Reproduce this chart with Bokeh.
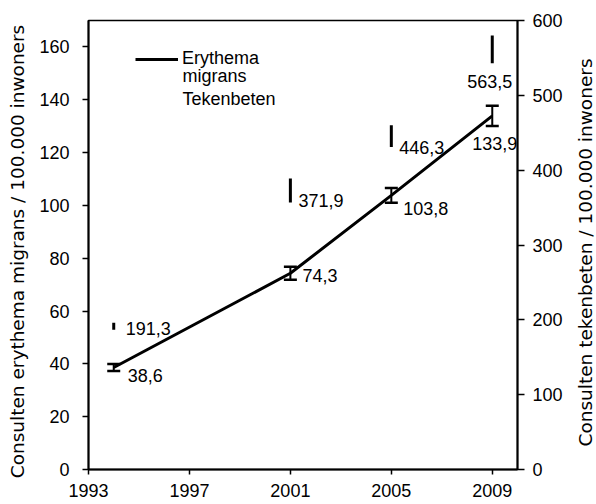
import math
from bokeh.plotting import figure
from bokeh.models import (Range1d, LinearAxis, FixedTicker, ColumnDataSource,
                          Whisker, TeeHead, Legend, LegendItem, Label)
from bokeh.core.properties import value
from bokeh.embed import file_html
from bokeh.resources import INLINE

# ---- data ----
years = [1994, 2001, 2005, 2009]
em_values = [38.6, 74.3, 103.8, 133.9]
em_lower = [37.3, 71.8, 101.0, 130.1]
em_upper = [39.9, 76.8, 106.6, 137.7]
tb_values = [191.3, 371.9, 446.3, 563.5]
tb_lower = [186.6, 356.8, 431.0, 543.0]
tb_upper = [196.0, 388.9, 460.0, 580.0]
x_ticks = [1993, 1997, 2001, 2005, 2009]
left_ticks = [0, 20, 40, 60, 80, 100, 120, 140, 160]
right_ticks = [0, 100, 200, 300, 400, 500, 600]

# label offsets (pixels) – style only
em_dx = [14, 12, 12, -20]
em_dy = [8, 2, 13, 28]
tb_dx = [12, 8, 8, -25]
tb_dy = [2, 9, 12, 34]

FONT = "Liberation Sans"
TITLE_FONT = "DejaVu Sans"

def fmt(v):
    return f"{v:.1f}".replace(".", ",")

p = figure(width=596, height=504, output_backend="svg", toolbar_location=None,
           x_range=Range1d(1993, 2010), y_range=Range1d(0, 170),
           min_border_left=88, min_border_right=79, min_border_top=20,
           min_border_bottom=35)
p.extra_y_ranges = {"right": Range1d(0, 600)}
p.background_fill_color = "white"
p.border_fill_color = "white"
p.outline_line_color = "black"
p.outline_line_width = 1.5
p.xgrid.visible = False
p.ygrid.visible = False

def style_axis(ax):
    ax.axis_line_color = "black"
    ax.axis_line_width = 2
    ax.major_tick_line_color = "black"
    ax.major_tick_line_width = 1.5
    ax.major_tick_in = 0
    ax.minor_tick_line_color = None
    ax.major_label_text_font = FONT
    ax.major_label_text_font_size = "18px"
    ax.major_label_text_color = "black"

xa = p.xaxis[0]
style_axis(xa)
xa.ticker = FixedTicker(ticks=x_ticks)
xa.major_tick_out = 5
xa.major_label_standoff = 9

ya = p.yaxis[0]
style_axis(ya)
ya.ticker = FixedTicker(ticks=left_ticks)
ya.major_tick_out = 6
ya.major_label_standoff = 13

ra = LinearAxis(y_range_name="right", ticker=FixedTicker(ticks=right_ticks))
style_axis(ra)
ra.major_tick_out = 7
ra.major_label_standoff = 8
p.add_layout(ra, "right")

# axis titles, both reading bottom-to-top like the reference
p.add_layout(Label(x=2, y=218, x_units="screen", y_units="screen",
                   text="Consulten erythema migrans / 100.000 inwoners",
                   angle=math.pi / 2, text_align="center", text_baseline="middle",
                   text_font=TITLE_FONT, text_font_size="18.5px",
                   text_color="black"), "left")
p.add_layout(Label(x=20, y=217, x_units="screen", y_units="screen",
                   text="Consulten tekenbeten / 100.000 inwoners",
                   angle=math.pi / 2, text_align="center", text_baseline="middle",
                   text_font=TITLE_FONT, text_font_size="18.5px",
                   text_color="black"), "right")

# ---- erythema migrans ----
em_src = ColumnDataSource(dict(x=years, y=em_values, lo=em_lower, hi=em_upper,
                               txt=[fmt(v) for v in em_values], dx=em_dx, dy=em_dy))
em_line = p.line("x", "y", source=em_src, line_color="black", line_width=3)
p.add_layout(Whisker(source=em_src, base="x", lower="lo", upper="hi",
                     line_color="black", line_width=2,
                     lower_head=TeeHead(size=13, line_width=2.5, line_color="black"),
                     upper_head=TeeHead(size=13, line_width=2.5, line_color="black")))
p.text("x", "y", text="txt", source=em_src, x_offset="dx", y_offset="dy",
       text_font=value(FONT), text_font_size="18px", text_color="black",
       text_align="left", text_baseline="middle")

# ---- tekenbeten ----
tb_src = ColumnDataSource(dict(x=years, y=tb_values, lo=tb_lower, hi=tb_upper,
                               txt=[fmt(v) for v in tb_values], dx=tb_dx, dy=tb_dy))
p.segment("x", "lo", "x", "hi", source=tb_src, y_range_name="right",
          line_color="black", line_width=3)
p.text("x", "y", text="txt", source=tb_src, x_offset="dx", y_offset="dy",
       y_range_name="right",
       text_font=value(FONT), text_font_size="18px", text_color="black",
       text_align="left", text_baseline="middle")

# ---- legend ----
legend = Legend(items=[LegendItem(label="Erythema", renderers=[em_line])],
                location=(47, 400), padding=0, margin=0, spacing=0,
                glyph_width=43, glyph_height=20, label_height=20,
                label_standoff=4, label_text_font=FONT,
                label_text_font_size="18px", label_text_color="black",
                background_fill_alpha=0, border_line_color=None)
p.add_layout(legend)
for txt, yy in [("migrans", 394), ("Tekenbeten", 371)]:
    p.add_layout(Label(x=94, y=yy, x_units="screen", y_units="screen", text=txt,
                       text_font=FONT, text_font_size="18px", text_color="black",
                       text_align="left", text_baseline="alphabetic"))

open("out.html", "w").write(file_html(p, INLINE))
